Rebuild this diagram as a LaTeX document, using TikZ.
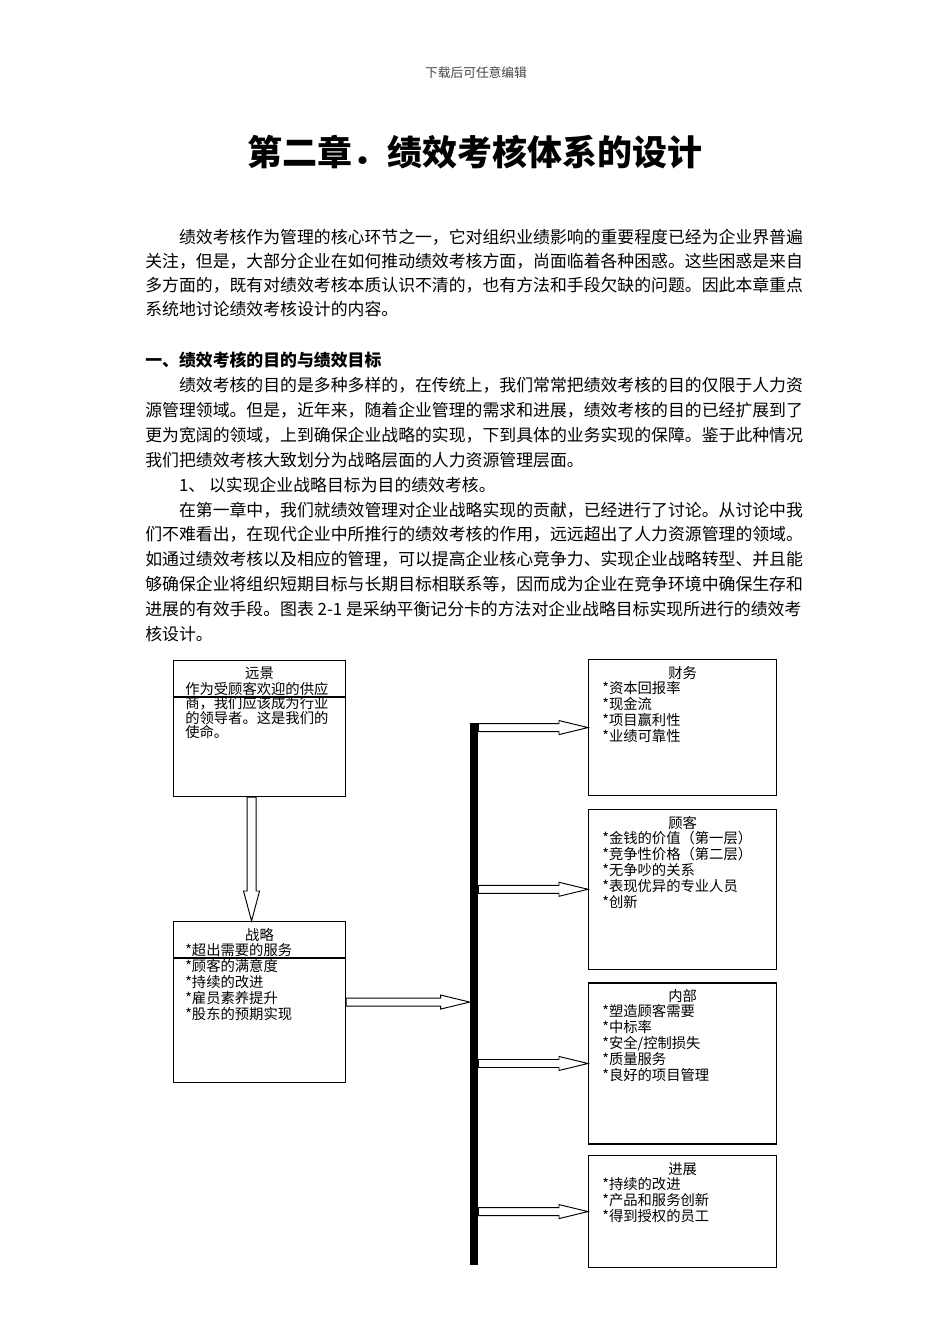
\documentclass[tikz,border=0pt]{standalone}
\usepackage{fontspec}
\setmainfont{Noto Sans CJK SC}
\usetikzlibrary{positioning,calc}
\definecolor{headgray}{RGB}{70,70,70}
\tikzset{
  pagehead/.style={inner sep=0pt, text=headgray, font=\fontsize{8}{9}\selectfont},
  chaptitle/.style={inner sep=0pt, font=\fontsize{22}{24}\selectfont\bfseries},
  bodytext/.style={align=left, inner sep=0pt, anchor=west, font=\fontsize{10.6}{15.65}\selectfont},
  panel/.style={draw, line width=0.7pt, anchor=north west, inner sep=0pt},
  ptitle/.style={inner sep=0pt, font=\fontsize{9}{10}\selectfont},
  plist/.style={align=left, inner sep=0pt, font=\fontsize{9}{10.05}\selectfont},
  bar/.style={fill=black, inner sep=0pt, minimum width=5pt, minimum height=340.7pt},
  blockarrow/.style={draw, fill=white, line width=0.6pt, line join=miter}
}
% hollow block arrows, pointing right / down
\newcommand{\rarrow}[2]{\draw[blockarrow] ($(#1 |- #2)+(0,-4)$) -- ($(#2)+(-29,-4)$) -- ($(#2)+(-29,-7)$) -- (#2) -- ($(#2)+(-29,7)$) -- ($(#2)+(-29,4)$) -- ($(#1 |- #2)+(0,4)$) -- cycle;}
\newcommand{\darrow}[2]{\draw[blockarrow] ($(#1)+(-4.5,0)$) -- ($(#2)+(-4.5,-30)$) -- ($(#2)+(-8,-30)$) -- (#2) -- ($(#2)+(8,-30)$) -- ($(#2)+(4.5,-30)$) -- ($(#1)+(4.5,0)$) -- cycle;}

\begin{document}
\begin{tikzpicture}[x=0.6286pt, y=-0.6286pt, node distance=7.9pt]
  \useasboundingbox (0,0) rectangle (950,1344);
  \fill[white] (0,0) rectangle (950,1344);

  % page text
  \node[pagehead] (dl) at (476,73) {下载后可任意编辑};
  \node[chaptitle] (chap) at (475,152) {第二章．绩效考核体系的设计};
  \node[bodytext, font=\fontsize{10.6}{15.1}\selectfont] (intro) at (145,273)
    {\hspace*{2em}绩效考核作为管理的核心环节之一，它对组织业绩影响的重要程度已经为企业界普遍\\
     关注，但是，大部分企业在如何推动绩效考核方面，尚面临着各种困惑。这些困惑是来自\\
     多方面的，既有对绩效考核本质认识不清的，也有方法和手段欠缺的问题。因此本章重点\\
     系统地讨论绩效考核设计的内容。};
  \node[bodytext] (sec) at (145,497)
    {{\bfseries 一、绩效考核的目的与绩效目标}\\
     \hspace*{2em}绩效考核的目的是多种多样的，在传统上，我们常常把绩效考核的目的仅限于人力资\\
     源管理领域。但是，近年来，随着企业管理的需求和进展，绩效考核的目的已经扩展到了\\
     更为宽阔的领域，上到确保企业战略的实现，下到具体的业务实现的保障。鉴于此种情况\\
     我们把绩效考核大致划分为战略层面的人力资源管理层面。\\
     \hspace*{2em}1、 以实现企业战略目标为目的绩效考核。\\
     \hspace*{2em}在第一章中，我们就绩效管理对企业战略实现的贡献，已经进行了讨论。从讨论中我\\
     们不难看出，在现代企业中所推行的绩效考核的作用，远远超出了人力资源管理的领域。\\
     如通过绩效考核以及相应的管理，可以提高企业核心竞争力、实现企业战略转型、并且能\\
     够确保企业将组织短期目标与长期目标相联系等，因而成为企业在竞争环境中确保生存和\\
     进展的有效手段。图表 2-1 是采纳平衡记分卡的方法对企业战略目标实现所进行的绩效考\\
     核设计。};

  % left column
  \node[panel, minimum width=108.1pt, minimum height=85.5pt] (vis) at (173,660) {};
  \node[ptitle, below=4.4pt of vis.north] (vist) {远景};
  \node[plist, font=\fontsize{9}{9.1}\selectfont, below right=13.8pt and 7.5pt of vis.north west] (visl)
    {作为受顾客欢迎的供应\\商，我们应该成为行业\\的领导者。这是我们的\\使命。};
  \draw[line width=0.7pt] ($(vis.north west)+(0,37)$) -- ($(vis.north east)+(0,37)$);

  \node[panel, minimum width=108.1pt, minimum height=101.2pt] (str) at (173,921) {};
  \node[ptitle, below=4.4pt of str.north] (strt) {战略};
  \node[plist, below right=13.8pt and 7.5pt of str.north west] (strl)
    {*超出需要的服务\\*顾客的满意度\\*持续的改进\\*雇员素养提升\\*股东的预期实现};
  \draw[line width=0.7pt] ($(str.north west)+(0,37)$) -- ($(str.north east)+(0,37)$);

  % right column
  \node[panel, minimum width=118.2pt, minimum height=85.5pt] (fin) at (588,659) {};
  \node[panel, minimum width=118.2pt, minimum height=100.6pt, below=of fin] (cus) {};
  \node[panel, minimum width=118.2pt, minimum height=101.2pt, below=of cus] (inn) {};
  \node[panel, minimum width=118.2pt, minimum height=70.4pt, below=6.6pt of inn] (gro) {};
  \node[ptitle, below=4.4pt of fin.north] (fint) {财务};
  \node[ptitle, below=4.4pt of cus.north] (cust) {顾客};
  \node[ptitle, below=4.4pt of inn.north] (innt) {内部};
  \node[ptitle, below=4.4pt of gro.north] (grot) {进展};
  \node[plist, below right=13.8pt and 8.8pt of fin.north west] (finl)
    {*资本回报率\\*现金流\\*项目赢利性\\*业绩可靠性};
  \node[plist, below right=13.8pt and 8.8pt of cus.north west] (cusl)
    {*金钱的价值（第一层）\\*竞争性价格（第二层）\\*无争吵的关系\\*表现优异的专业人员\\*创新};
  \node[plist, below right=13.8pt and 8.8pt of inn.north west] (innl)
    {*塑造顾客需要\\*中标率\\*安全/控制损失\\*质量服务\\*良好的项目管理};
  \node[plist, below right=13.8pt and 8.8pt of gro.north west] (grol)
    {*持续的改进\\*产品和服务创新\\*得到授权的员工};

  % bar and arrows
  \node[bar] (bar) at (474,994) {};
  \coordinate (vdown) at ($(vis.south)+(-8,0)$);
  \coordinate (vtip) at ($(str.north)+(-8,0)$);
  \darrow{vdown}{vtip}
  \coordinate (bartip) at (bar.west |- str.east);
  \rarrow{str.east}{bartip}
  \foreach \b in {fin,cus,inn,gro}{\rarrow{bar.east}{\b.west}}
\end{tikzpicture}
\end{document}
